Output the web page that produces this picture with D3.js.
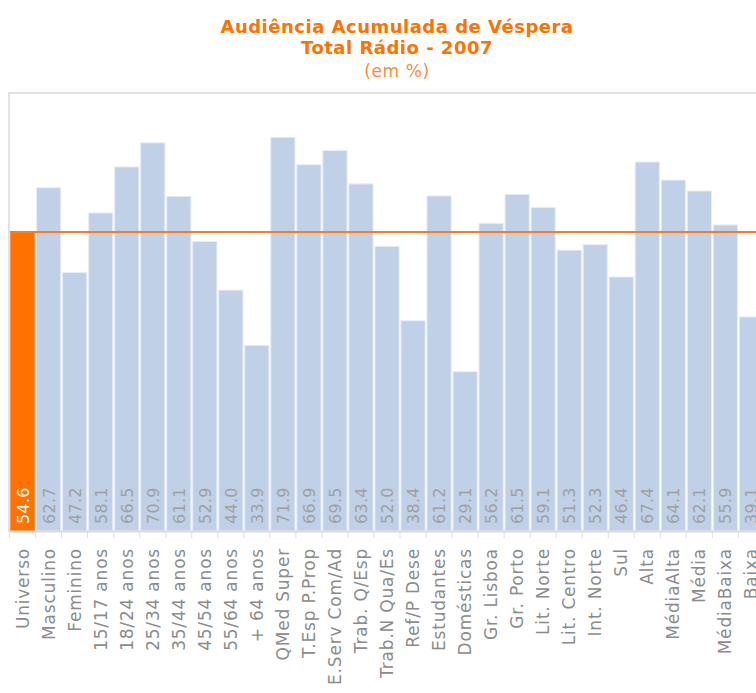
<!DOCTYPE html>
<html>
<head>
<meta charset="utf-8">
<script src="https://cdn.jsdelivr.net/npm/d3@7"></script>
<style>
  body { margin: 0; background: #fff; }
  svg { display: block; font-family: "DejaVu Sans", Verdana, sans-serif; }
</style>
</head>
<body>
<svg id="chart" width="756" height="693"></svg>
<script>
// categories and values (em %)
const categories = ["Universo", "Masculino", "Feminino", "15/17 anos", "18/24 anos", "25/34 anos",
  "35/44 anos", "45/54 anos", "55/64 anos", "+ 64 anos", "QMed Super", "T.Esp P.Prop",
  "E.Serv Com/Ad", "Trab. Q/Esp", "Trab.N Qua/Es", "Ref/P Dese", "Estudantes", "Domésticas",
  "Gr. Lisboa", "Gr. Porto", "Lit. Norte", "Lit. Centro", "Int. Norte", "Sul",
  "Alta", "MédiaAlta", "Média", "MédiaBaixa", "Baixa"];
const values = [54.6, 62.7, 47.2, 58.1, 66.5, 70.9, 61.1, 52.9, 44.0, 33.9, 71.9, 66.9,
  69.5, 63.4, 52.0, 38.4, 61.2, 29.1, 56.2, 61.5, 59.1, 51.3, 52.3, 46.4,
  67.4, 64.1, 62.1, 55.9, 39.1];
const titleLines = ["Audiência Acumulada de Véspera", "Total Rádio - 2007"];
const subtitle = "(em %)";
const yDomain = [0, 80];
const reference = values[0]; // Universo line

const svg = d3.select('#chart');
const orange = "#ff7200";

// titles
svg.selectAll("text.title")
  .data(titleLines)
  .enter().append("text")
  .attr("class", "title")
  .attr("x", 397)
  .attr("y", (d, i) => 33 + i * 21)
  .attr("text-anchor", "middle")
  .attr("font-size", 18)
  .attr("letter-spacing", 0.5)
  .attr("font-weight", "bold")
  .attr("fill", orange)
  .text(d => d);

svg.append("text")
  .attr("x", 397)
  .attr("y", 77)
  .attr("text-anchor", "middle")
  .attr("font-size", 17)
  .attr("letter-spacing", 0.6)
  .attr("fill", "#ff8a3c")
  .text(subtitle);

// scales
const x = d3.scaleBand()
  .domain(categories)
  .range([10, 764])
  .paddingInner(0.07)
  .paddingOuter(0.02);

const y = d3.scaleLinear()
  .domain(yDomain)
  .range([531, 93]);

// frame
svg.append("rect")
  .attr("x", 9)
  .attr("y", y(yDomain[1]))
  .attr("width", 800)
  .attr("height", y(0) - y(yDomain[1]))
  .attr("fill", "none")
  .attr("stroke", "#e2e2e2")
  .attr("stroke-width", 2);

// bars
svg.append("g").selectAll("rect")
  .data(categories)
  .enter().append("rect")
  .attr("x", d => x(d))
  .attr("y", (d, i) => y(values[i]))
  .attr("width", x.bandwidth())
  .attr("height", (d, i) => y(0) - y(values[i]))
  .attr("fill", (d, i) => i === 0 ? orange : "#bfd0e7")
  .attr("stroke", (d, i) => i === 0 ? "#ff8f45" : "#e6edf7")
  .attr("stroke-width", 1);

// reference line at Universo
svg.append("line")
  .attr("x1", 10)
  .attr("x2", 756)
  .attr("y1", y(reference))
  .attr("y2", y(reference))
  .attr("stroke", "#ff7a1f")
  .attr("stroke-width", 2);

// value labels inside bars
svg.append("g").selectAll("text")
  .data(categories)
  .enter().append("text")
  .attr("transform", (d, i) => `translate(${x(d) + x.bandwidth() / 2 + 6}, 524) rotate(-90)`)
  .attr("font-size", 16)
  .attr("letter-spacing", 0.3)
  .attr("fill", (d, i) => i === 0 ? "#fff" : "#a0a0a0")
  .text((d, i) => values[i].toFixed(1));

// x axis
const xAxis = d3.axisBottom(x).tickSize(0).tickPadding(0);
const gx = svg.append("g")
  .attr("transform", `translate(0, ${y(0)})`)
  .call(xAxis);
gx.select(".domain").attr("stroke", "#dcdcdc").attr("stroke-width", 2);
gx.selectAll(".tick text")
  .attr("transform", `translate(6, 17) rotate(-90)`)
  .attr("text-anchor", "end")
  .attr("dy", 0)
  .attr("y", 0)
  .attr("font-size", 17)
  .attr("letter-spacing", 0.8)
  .attr("font-family", "DejaVu Sans, sans-serif")
  .attr("fill", "#8c8c8c");

// tick marks at band boundaries
const step = x.step();
svg.append("g").selectAll("line")
  .data(categories)
  .enter().append("line")
  .attr("x1", d => x(d) - step * x.paddingInner() / 2)
  .attr("x2", d => x(d) - step * x.paddingInner() / 2)
  .attr("y1", y(0))
  .attr("y2", y(0) + 7)
  .attr("stroke", "#dcdcdc")
  .attr("stroke-width", 1);
</script>
</body>
</html>
